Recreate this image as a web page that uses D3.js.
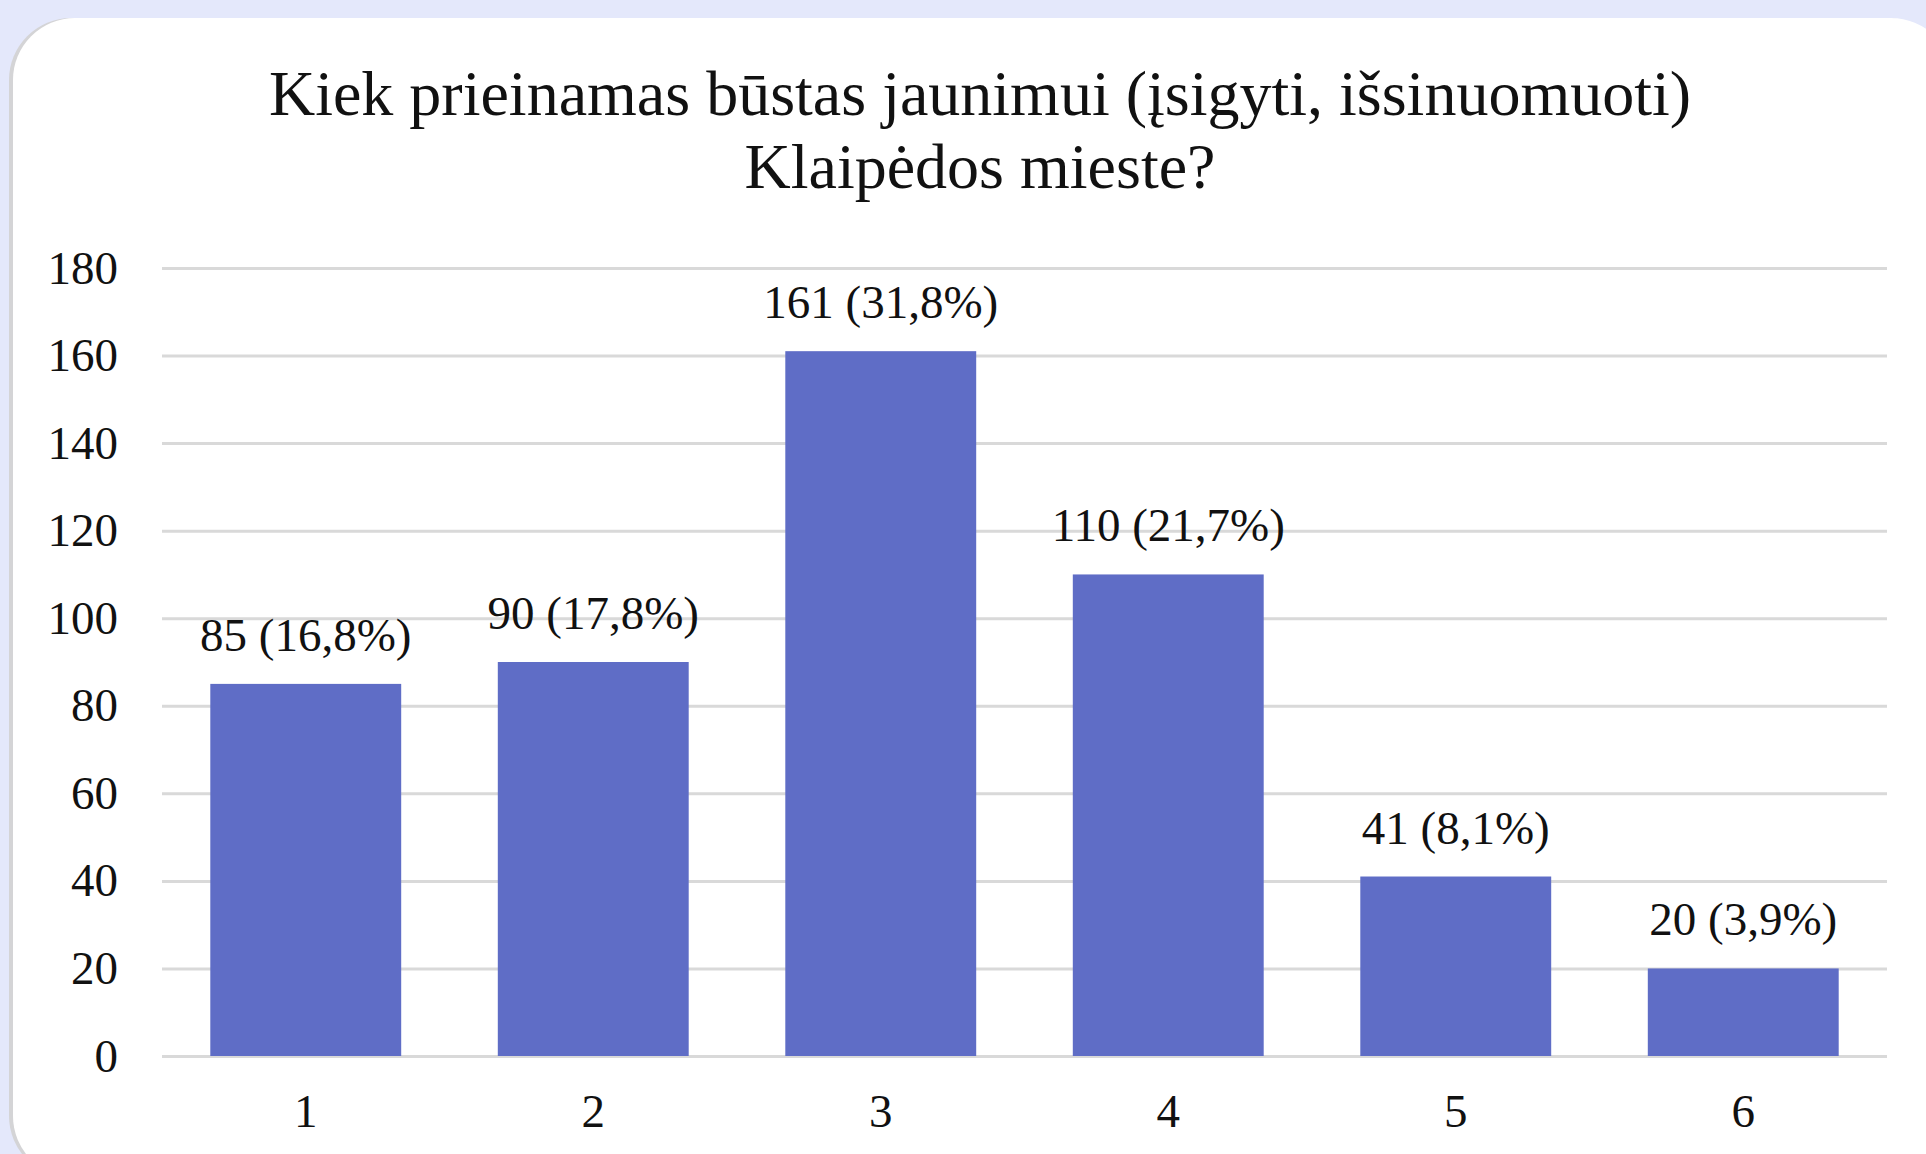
<!DOCTYPE html>
<html>
<head>
<meta charset="utf-8">
<script src="https://cdn.jsdelivr.net/npm/d3@7"></script>
<style>
  body { margin: 0; background: #e4e8fb; overflow: hidden; }
  svg { display: block; font-family: "Liberation Serif", "Times New Roman", serif; }
</style>
</head>
<body>
<div id="chart"></div>
<script>
const titleLines = ['Kiek prieinamas būstas jaunimui (įsigyti, išsinuomuoti)', 'Klaipėdos mieste?'];
const categories = ['1', '2', '3', '4', '5', '6'];
const counts = [85, 90, 161, 110, 41, 20];
const shares = ['16,8', '17,8', '31,8', '21,7', '8,1', '3,9'];
const yTicks = [0, 20, 40, 60, 80, 100, 120, 140, 160, 180];

const width = 1926, height = 1154;
const plot = { left: 162, right: 1887, top: 268, bottom: 1056 };
const labelSize = '47px';

const svg = d3.select('#chart').append('svg')
    .attr('width', width)
    .attr('height', height)

// card with a thin grey edge on the left
svg.append('rect')
    .attr('x', 9).attr('y', 18)
    .attr('width', 1940).attr('height', 1160)
    .attr('rx', 62).attr('ry', 62)
    .style('fill', '#d4d4d6')
svg.append('rect')
    .attr('x', 13).attr('y', 18)
    .attr('width', 1940).attr('height', 1160)
    .attr('rx', 62).attr('ry', 62)
    .style('fill', '#ffffff')

svg.append('text')
    .attr('x', 980)
    .attr('text-anchor', 'middle')
    .style('font-size', '64px')
    .style('fill', '#111')
    .selectAll('tspan')
    .data(titleLines)
        .enter().append('tspan')
        .attr('x', 980)
        .attr('y', (d, i) => 115 + i * 73)
        .text(d => d)

const x = d3.scaleBand()
    .domain(categories)
    .range([plot.left, plot.right])
    .paddingInner(0.336)
    .paddingOuter(0.168)

const y = d3.scaleLinear()
    .domain([0, 180])
    .range([plot.bottom, plot.top])

const yAxis = svg.append('g')
    .attr('transform', `translate(${plot.left},0)`)
    .call(d3.axisLeft(y)
        .tickValues(yTicks)
        .tickSizeInner(-(plot.right - plot.left))
        .tickSizeOuter(0)
        .tickPadding(44))
yAxis.select('.domain').remove()
yAxis.selectAll('line')
    .style('stroke', '#d9d9d9')
    .style('stroke-width', '3px')
yAxis.selectAll('text')
    .style('font-family', 'Liberation Serif, serif')
    .style('font-size', labelSize)
    .style('fill', '#111')

const xAxis = svg.append('g')
    .attr('transform', `translate(0,${plot.bottom})`)
    .call(d3.axisBottom(x).tickSize(0).tickPadding(38))
xAxis.select('.domain').remove()
xAxis.selectAll('text')
    .style('font-family', 'Liberation Serif, serif')
    .style('font-size', labelSize)
    .style('fill', '#111')

const data = categories.map((c, i) => ({ cat: c, value: counts[i], share: shares[i] }));

svg.append('g')
    .selectAll('rect')
    .data(data)
        .enter().append('rect')
        .attr('x', d => x(d.cat))
        .attr('y', d => y(d.value))
        .attr('width', x.bandwidth())
        .attr('height', d => y(0) - y(d.value))
        .style('fill', '#5f6dc6')

svg.append('g')
    .selectAll('text')
    .data(data)
        .enter().append('text')
        .attr('x', d => x(d.cat) + x.bandwidth() / 2)
        .attr('y', d => y(d.value) - 33)
        .attr('text-anchor', 'middle')
        .style('font-size', labelSize)
        .style('fill', '#111')
        .text(d => `${d.value} (${d.share}%)`)
</script>
</body>
</html>
